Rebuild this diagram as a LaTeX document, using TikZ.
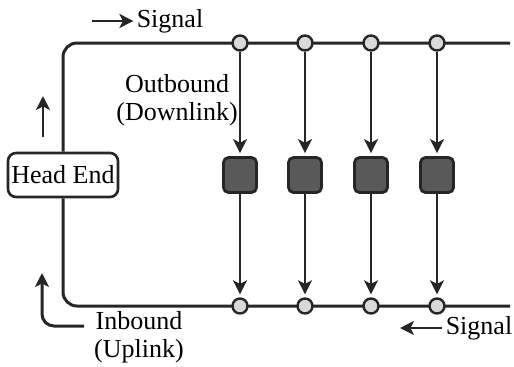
\documentclass[tikz,border=0pt]{standalone}
\usepackage{fontspec}
\setmainfont{Liberation Serif}
\usetikzlibrary{positioning,arrows.meta}

\begin{document}
\begin{tikzpicture}[
  x=0.5pt, y=-0.5pt,
  font=\fontsize{13}{14}\selectfont,
  trunk/.style={draw=black!85, line width=1.5pt},
  head/.style={draw=black!85, line width=1.3pt, rectangle, rounded corners=4pt, minimum width=55pt, minimum height=22pt, inner sep=1pt},
  tap/.style={draw=black!85, line width=1.2pt, circle, fill=gray!30, minimum size=7.5pt, inner sep=0pt},
  unit/.style={draw=black!85, line width=1.4pt, rectangle, rounded corners=2.5pt, fill=black!65, minimum width=16.5pt, minimum height=17.5pt, inner sep=0pt},
  lbl/.style={inner sep=1.5pt, align=center},
  arr/.style={-{Stealth[length=7pt,width=7pt,inset=1.8pt]}, draw=black!85, line width=1.1pt, shorten >=1.5pt},
  sig/.style={-{Stealth[length=7pt,width=7pt,inset=1.8pt]}, draw=black!85, line width=1.3pt}
]
  \useasboundingbox (0,0) rectangle (514,366);

  % cable trunk
  \node[head] (head) at (63,175) {Head End};
  \coordinate (topend) at (510,43);
  \coordinate (botend) at (510,306);
  \draw[trunk, rounded corners=7pt] (head.north) |- (topend);
  \draw[trunk, rounded corners=7pt] (head.south) |- (botend);

  % taps and subscriber units
  \foreach \x [count=\i] in {240,305,371,437} {
    \node[tap] (t\i) at (\x,43) {};
    \node[unit] (u\i) at (\x,175) {};
    \node[tap] (b\i) at (\x,306) {};
    \draw[arr] (t\i) -- (u\i);
    \draw[arr] (u\i) -- (b\i);
  }

  % labels
  \node[lbl] (sigtop) at (170,21) {Signal};
  \coordinate (sigA) at (92,21);
  \draw[sig] (sigA) -- (sigtop.west);

  \node[lbl] (outb) at (177,100) {Outbound\\(Downlink)};
  \coordinate (upA) at (43,137);
  \coordinate (upB) at (43,96);
  \draw[sig] (upA) -- (upB);

  \node[lbl] (inb) at (139,337) {Inbound\\(Uplink)};
  \coordinate (inA) at (84,326);
  \coordinate (inB) at (42,273);
  \draw[sig, line width=1.5pt, rounded corners=6pt] (inA) -| (inB);

  \node[lbl] (sigbot) at (479,328) {Signal};
  \coordinate (sigB) at (400,328);
  \draw[sig] (sigbot.west) -- (sigB);
\end{tikzpicture}
\end{document}
